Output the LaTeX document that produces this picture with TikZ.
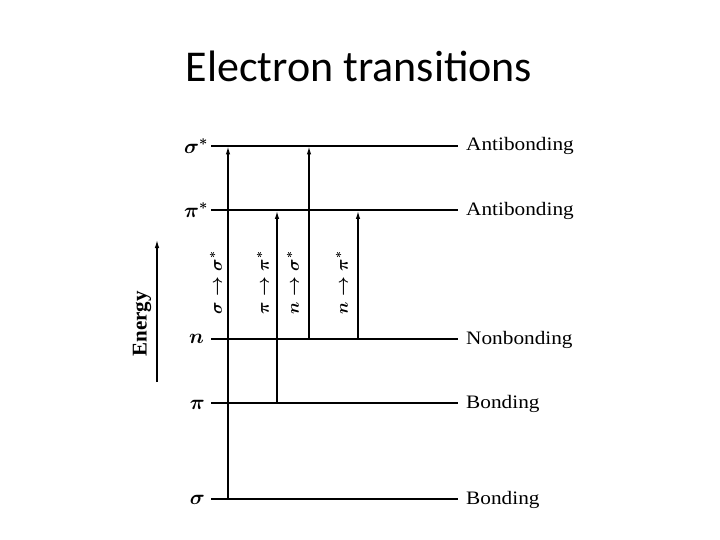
\documentclass[tikz,border=0pt]{standalone}
\usepackage{fontspec}
\setmainfont{Liberation Serif}
\newfontfamily\titlefont{Carlito}
\usetikzlibrary{arrows.meta}
\begin{document}
\begin{tikzpicture}[x=1pt,y=-1pt,
  level/.style={line width=1.2pt},
  trans/.style={line width=1.2pt,-{Latex[length=8pt,width=4.5pt]}},
  lvlname/.style={anchor=base west,font=\fontsize{19}{21}\selectfont,xscale=1.12,inner sep=0pt},
  lvlsym/.style={anchor=east,font=\fontsize{21}{23}\selectfont\boldmath,inner sep=0pt},
  translab/.style={rotate=90,font=\fontsize{17}{19}\selectfont\boldmath,inner sep=0pt}]
\useasboundingbox (0,0) rectangle (720,540);
\node[font=\titlefont\fontsize{44}{48}\selectfont] (title) at (359,66) {Electron transitions};
% level lines
\foreach \nm/\yy in {ss/146,ps/210,n/339,p/403,s/499}{
  \coordinate (\nm L) at (211,\yy);
  \coordinate (\nm R) at (458,\yy);
  \draw[level] (\nm L) -- (\nm R);
}
% left symbols
\node[lvlsym] (lss) at (208,146) {$\sigma^*$};
\node[lvlsym] (lps) at (208,210) {$\pi^*$};
\node[lvlsym] (ln) at (204,339) {$n$};
\node[lvlsym] (lp) at (205,405) {$\pi$};
\node[lvlsym] (ls) at (205,500) {$\sigma$};
% right names
\node[lvlname] (rss) at (466,151) {Antibonding};
\node[lvlname] (rps) at (466,215) {Antibonding};
\node[lvlname] (rn) at (466,344) {Nonbonding};
\node[lvlname] (rp) at (466,408) {Bonding};
\node[lvlname] (rs) at (466,504) {Bonding};
% transitions
\coordinate (a1b) at (228,499); \coordinate (a1t) at (228,146.5);
\coordinate (a2b) at (277,403); \coordinate (a2t) at (277,211);
\coordinate (a3b) at (309,339); \coordinate (a3t) at (309,146.5);
\coordinate (a4b) at (358,339); \coordinate (a4t) at (358,211);
\draw[trans] (a1b) -- (a1t);
\draw[trans] (a2b) -- (a2t);
\draw[trans] (a3b) -- (a3t);
\draw[trans] (a4b) -- (a4t);
\node[translab] (t1) at (216,283) {$\sigma\rightarrow\sigma^*$};
\node[translab] (t2) at (263,283) {$\pi\rightarrow\pi^*$};
\node[translab] (t3) at (293,283) {$n\rightarrow\sigma^*$};
\node[translab] (t4) at (342,283) {$n\rightarrow\pi^*$};
% energy axis
\coordinate (eb) at (157,382);
\coordinate (et) at (157,240);
\draw[trans] (eb) -- (et);
\node[rotate=90,font=\fontsize{21}{23}\selectfont\bfseries,inner sep=0pt] (energy) at (142,324) {Energy};
\end{tikzpicture}
\end{document}
